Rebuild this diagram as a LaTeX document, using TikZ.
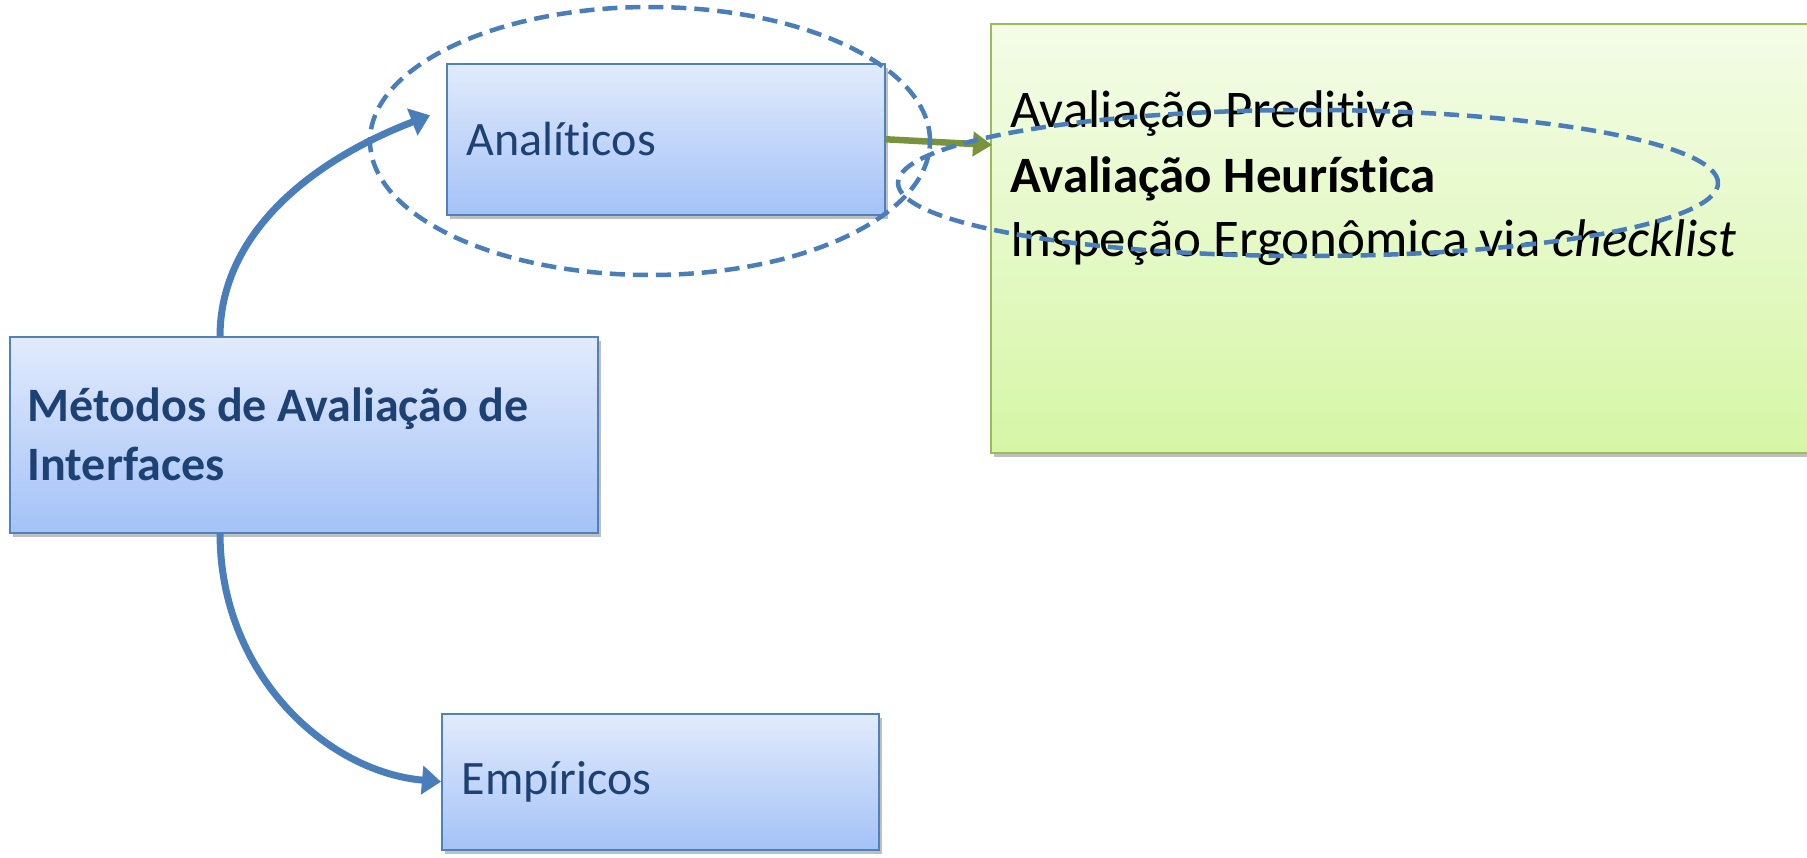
\documentclass[tikz,border=0pt]{standalone}
\usepackage{fontspec}
\setmainfont{Carlito}[Ligatures=NoCommon]
\usetikzlibrary{arrows.meta,shadows,calc}
\definecolor{boxtop}{RGB}{226,235,252}
\definecolor{boxbot}{RGB}{164,194,247}
\definecolor{boxline}{RGB}{79,129,189}
\definecolor{txtblue}{RGB}{30,65,115}
\definecolor{grtop}{RGB}{244,252,232}
\definecolor{grbot}{RGB}{214,246,166}
\definecolor{grline}{RGB}{155,187,89}
\definecolor{grarrow}{RGB}{119,147,60}
\definecolor{curvecol}{RGB}{74,126,187}
\begin{document}
\begin{tikzpicture}[x=1pt,y=-1pt,
  bluebox/.style={draw=boxline, line width=1.5pt, top color=boxtop, bottom color=boxbot,
    inner ysep=0pt, align=flush left, text=txtblue, anchor=north west,
    drop shadow={shadow xshift=3pt,shadow yshift=-4pt,opacity=0.25,fill=black}},
  greenbox/.style={draw=grline, line width=1.5pt, top color=grtop, bottom color=grbot,
    inner sep=0pt, anchor=north west,
    drop shadow={shadow xshift=3pt,shadow yshift=-4pt,opacity=0.25,fill=black}},
  greentext/.style={anchor=base west, inner sep=0pt, font=\fontsize{53}{62}\selectfont},
  curvearrow/.style={draw=curvecol, line width=7pt, -{Triangle[length=19pt,width=28pt]}},
  gararrow/.style={draw=grarrow, line width=6.5pt, -{Triangle[length=19pt,width=24pt]}},
  ring/.style={draw=curvecol, line width=4.5pt, dash pattern=on 15pt off 8pt}]
\useasboundingbox (0,0) rectangle (1807,857);

\node[bluebox, text width=552pt, inner xsep=18pt, minimum height=196pt,
  font=\fontsize{48}{59}\selectfont\bfseries] (met) at (9,336)
  {Métodos de Avaliação de\\Interfaces};
\node[bluebox, text width=398pt, inner xsep=20pt, minimum height=151pt,
  font=\fontsize{48}{56}\selectfont] (ana) at (446,63) {Analíticos};
\node[bluebox, text width=397pt, inner xsep=20pt, minimum height=136pt,
  font=\fontsize{48}{56}\selectfont] (emp) at (441,713) {Empíricos};

\node[greenbox, minimum width=822pt, minimum height=429pt] (gr) at (990,23) {};
\node[greentext] (t1) at (1010,127) {Avaliação Preditiva};
\node[greentext, font=\fontsize{51}{60}\selectfont\bfseries] (t2) at (1010,192) {Avaliação Heurística};
\node[greentext] (t3) at (1010,256) {Inspeção Ergonômica via \textit{checklist}};

\draw[curvearrow] ($(met.north west)!0.358!(met.north east)$)
  .. controls +(0,-95) and +(-130,50) .. ([shift={(-16,-24)}]ana.west);
\draw[curvearrow] ($(met.south west)!0.358!(met.south east)$)
  .. controls +(0,140) and +(-115,-10) .. (emp.west);
\draw[gararrow] (ana.east) -- ($(gr.north west)+(2,122)$);

\draw[ring] (650,141) ellipse [x radius=280pt, y radius=134pt];
\draw[ring] (1308,183) ellipse [x radius=410pt, y radius=73pt];
\end{tikzpicture}
\end{document}
